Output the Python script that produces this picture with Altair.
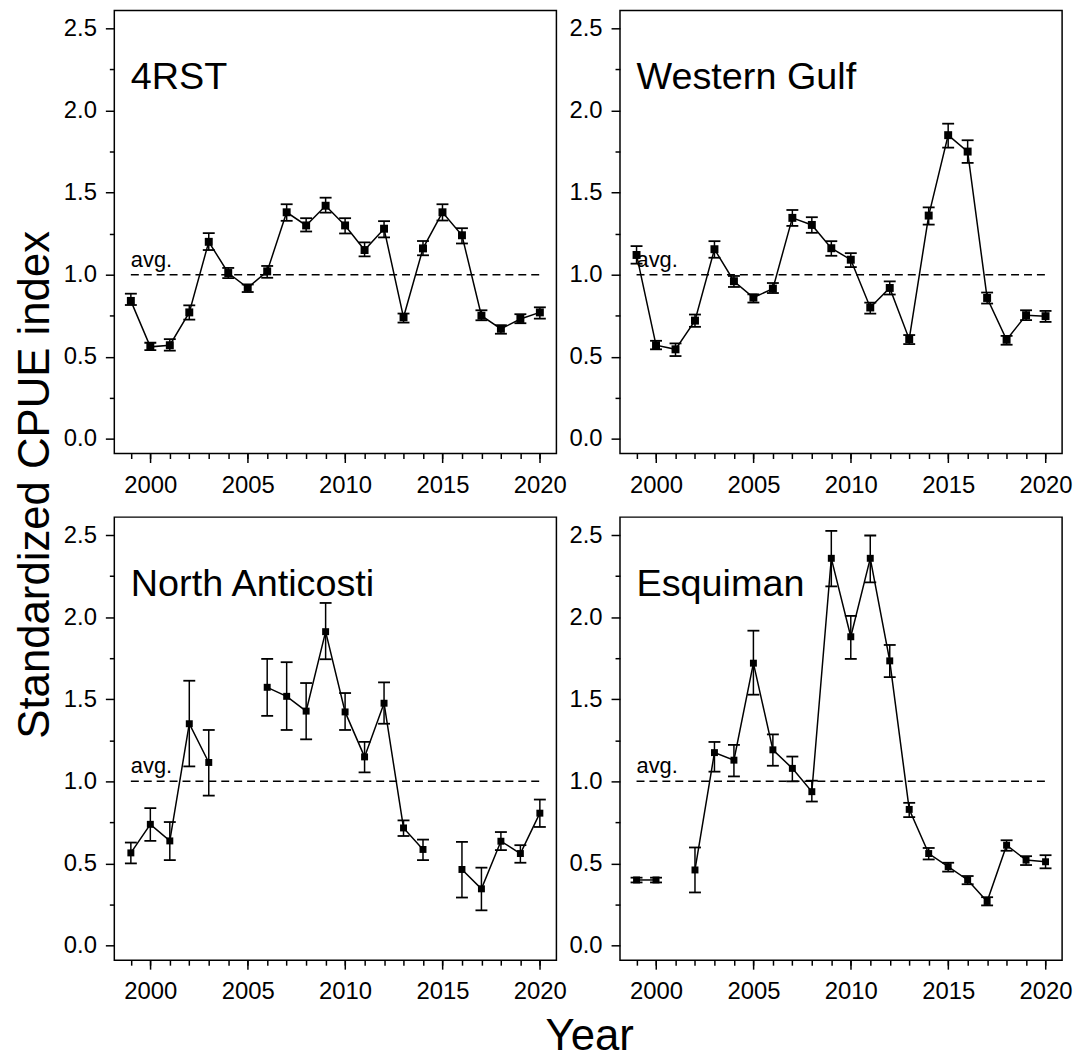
import altair as alt
import pandas as pd

FONT = "Liberation Sans"

years = list(range(1999, 2021))
regions = ["4RST", "Western Gulf", "North Anticosti", "Esquiman"]

rst_val = [0.84, 0.56, 0.57, 0.77, 1.20, 1.01, 0.92, 1.02, 1.38, 1.30, 1.42,
           1.30, 1.15, 1.28, 0.74, 1.16, 1.38, 1.24, 0.75, 0.67, 0.73, 0.77]
rst_lo = [0.815, 0.54, 0.537, 0.726, 1.15, 0.979, 0.894, 0.981, 1.328, 1.263, 1.378,
          1.251, 1.112, 1.227, 0.708, 1.118, 1.33, 1.19, 0.722, 0.64, 0.704, 0.732]
rst_hi = [0.884, 0.585, 0.607, 0.813, 1.253, 1.041, 0.94, 1.053, 1.429, 1.344, 1.469,
          1.344, 1.197, 1.326, 0.763, 1.205, 1.429, 1.283, 0.783, 0.692, 0.759, 0.801]

wg_val = [1.12, 0.57, 0.545, 0.72, 1.155, 0.96, 0.86, 0.915, 1.346, 1.303, 1.161,
          1.091, 0.80, 0.919, 0.607, 1.36, 1.85, 1.75, 0.858, 0.603, 0.753, 0.747]
wg_lo = [1.067, 0.545, 0.504, 0.682, 1.103, 0.925, 0.83, 0.888, 1.297, 1.255, 1.115,
         1.046, 0.763, 0.879, 0.577, 1.305, 1.774, 1.681, 0.824, 0.573, 0.723, 0.712]
wg_hi = [1.174, 0.597, 0.581, 0.757, 1.204, 0.992, 0.88, 0.949, 1.394, 1.35, 1.204,
         1.131, 0.83, 0.959, 0.632, 1.41, 1.92, 1.819, 0.891, 0.627, 0.783, 0.779]

na_val = [0.564, 0.738, 0.637, 1.351, 1.115, None, None, 1.573, 1.518, 1.428, 1.912,
          1.423, 1.149, 1.476, 0.716, 0.585, None, 0.463, 0.345, 0.635, 0.56, 0.806]
na_lo = [0.5, 0.637, 0.52, 1.091, 0.913, None, None, 1.399, 1.313, 1.256, 1.744,
         1.313, 1.054, 1.351, 0.667, 0.52, None, 0.292, 0.214, 0.581, 0.504, 0.722]
na_hi = [0.627, 0.837, 0.752, 1.613, 1.313, None, None, 1.746, 1.726, 1.599, 2.087,
         1.538, 1.24, 1.603, 0.762, 0.645, None, 0.631, 0.474, 0.691, 0.611, 0.889]

es_val = [0.399, 0.399, None, 0.46, 1.175, 1.129, 1.72, 1.192, 1.079, 0.937, 2.359,
          1.881, 2.359, 1.734, 0.829, 0.56, 0.48, 0.399, 0.268, 0.611, 0.52, 0.51]
es_lo = [0.384, 0.384, None, 0.323, 1.059, 1.03, 1.528, 1.095, 1.0, 0.877, 2.188,
         1.746, 2.212, 1.635, 0.782, 0.524, 0.45, 0.373, 0.244, 0.577, 0.49, 0.47]
es_hi = [0.413, 0.413, None, 0.597, 1.24, 1.222, 1.918, 1.286, 1.151, 1.004, 2.526,
         2.008, 2.498, 1.831, 0.869, 0.594, 0.504, 0.423, 0.294, 0.641, 0.544, 0.55]

avg_level = 1.0
major_years = [2000, 2005, 2010, 2015, 2020]
major_y = [0.0, 0.5, 1.0, 1.5, 2.0, 2.5]
minor_y = [0.25, 0.75, 1.25, 1.75, 2.25]

series = {
    "4RST": (rst_val, rst_lo, rst_hi),
    "Western Gulf": (wg_val, wg_lo, wg_hi),
    "North Anticosti": (na_val, na_lo, na_hi),
    "Esquiman": (es_val, es_lo, es_hi),
}

rows = []
for reg in regions:
    v, lo, hi = series[reg]
    seg = 0
    prev = None
    for yr, a, b, c in zip(years, v, lo, hi):
        if a is None:
            continue
        if prev is not None and yr - prev > 1:
            seg += 1
        prev = yr
        rows.append({"region": reg, "year": yr, "val": a, "lo": b, "hi": c, "seg": seg})
df = pd.DataFrame(rows)

XS = alt.Scale(domain=[1998.15, 2020.85], nice=False, zero=False)
YS = alt.Scale(domain=[-0.09, 2.61], nice=False, zero=False)


def panel(name, ytitle, xtitle, sq):
    d = df[df.region == name]
    if xtitle:
        major_x = alt.Axis(orient="bottom", values=major_years, format="d", tickSize=9,
                           labelPadding=11,
                           title=xtitle, titleFontSize=44, titleFont=FONT,
                           titleFontWeight="normal", titleX=478, titleY=90,
                           titleBaseline="alphabetic", titleColor="black")
    else:
        major_x = alt.Axis(orient="bottom", values=major_years, format="d", tickSize=9,
                           labelPadding=11, title=None)
    if ytitle:
        major_yax = alt.Axis(orient="left", values=major_y, format=".1f", tickSize=9,
                             labelPadding=9,
                             title=ytitle, titleFontSize=44, titleFont=FONT,
                             titleFontWeight="normal", titleX=-66, titleY=477,
                             titleBaseline="alphabetic", titleColor="black")
    else:
        major_yax = alt.Axis(orient="left", values=major_y, format=".1f", tickSize=9,
                             labelPadding=9, title=None)
    minor_x = alt.Axis(orient="bottom", values=years, labels=False, tickSize=5, title=None)
    minor_yax = alt.Axis(orient="left", values=minor_y, labels=False, tickSize=5, title=None)

    avg_df = pd.DataFrame({"x": [years[0]], "x2": [years[-1]], "y": [avg_level],
                           "t": ["avg."]})
    lab_df = pd.DataFrame({"x": [years[0]], "t": [name]})

    avg_line = alt.Chart(avg_df).mark_rule(
        color="black", strokeWidth=1.5, strokeDash=[8, 5]
    ).encode(
        x=alt.X("x:Q", scale=XS, axis=major_x),
        x2="x2:Q",
        y=alt.Y("y:Q", scale=YS, axis=major_yax),
    )
    avg_txt = alt.Chart(avg_df).mark_text(
        align="left", baseline="alphabetic", dy=-8, fontSize=22, font=FONT, color="black"
    ).encode(
        x=alt.X("x:Q", scale=XS, axis=None),
        y=alt.Y("y:Q", scale=YS, axis=None),
        text="t:N",
    )
    err = alt.Chart(d).mark_rule(color="black", strokeWidth=1.5).encode(
        x=alt.X("year:Q", scale=XS, axis=minor_x),
        y=alt.Y("lo:Q", scale=YS, axis=minor_yax),
        y2="hi:Q",
    )
    cap_lo = alt.Chart(d).mark_tick(
        orient="horizontal", size=12, thickness=1.8, color="black", opacity=1
    ).encode(
        x=alt.X("year:Q", scale=XS, axis=None),
        y=alt.Y("lo:Q", scale=YS, axis=None),
    )
    cap_hi = alt.Chart(d).mark_tick(
        orient="horizontal", size=12, thickness=1.8, color="black", opacity=1
    ).encode(
        x=alt.X("year:Q", scale=XS, axis=None),
        y=alt.Y("hi:Q", scale=YS, axis=None),
    )
    line = alt.Chart(d).mark_line(color="black", strokeWidth=1.5).encode(
        x=alt.X("year:Q", scale=XS, axis=None),
        y=alt.Y("val:Q", scale=YS, axis=None),
        detail="seg:N",
        order="year:Q",
    )
    pts = alt.Chart(d).mark_square(size=sq, color="black", opacity=1).encode(
        x=alt.X("year:Q", scale=XS, axis=None),
        y=alt.Y("val:Q", scale=YS, axis=None),
    )
    lab = alt.Chart(lab_df).mark_text(
        align="left", baseline="alphabetic", fontSize=38, font=FONT, color="black"
    ).encode(
        x=alt.X("x:Q", scale=XS, axis=None),
        y=alt.value(79),
        text="t:N",
    )
    return alt.layer(avg_line, err, cap_lo, cap_hi, line, pts, avg_txt, lab).resolve_axis(
        x="independent", y="independent"
    ).properties(width=445, height=446)


p1 = panel("4RST", "Standardized CPUE index", None, 64)
p2 = panel("Western Gulf", None, None, 64)
p3 = panel("North Anticosti", None, "Year", 49)
p4 = panel("Esquiman", None, None, 49)

chart = alt.concat(
    p1, p2, p3, p4, columns=2, spacing=64, bounds="flush",
).configure_view(
    stroke="black", strokeWidth=1.5
).configure_axis(
    domain=False, grid=False, tickColor="black", tickWidth=1.5,
    labelFont=FONT, labelFontSize=24, labelColor="black",
).properties(
    padding={"left": 5, "top": -2, "right": 5, "bottom": 0},
    background="white",
)

chart.save("out.html", embed_options={"renderer": "svg", "actions": False})
